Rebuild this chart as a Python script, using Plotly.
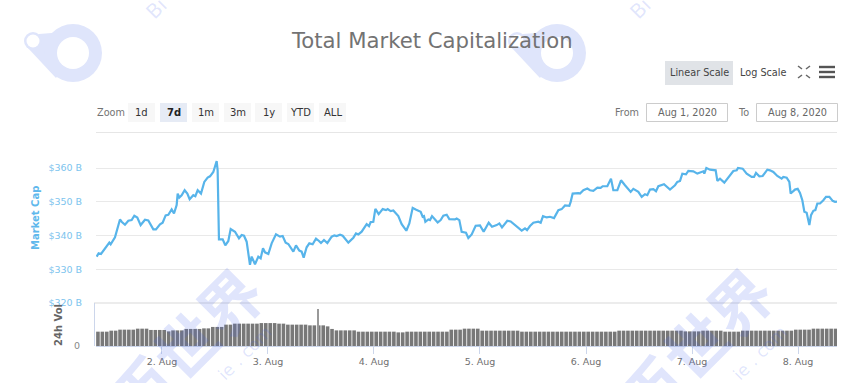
import pandas as pd
import plotly.graph_objects as go

# ---- data ----
cap_hours = [9.21,9.66,10.19,11.09,12.08,12.38,13.36,14.49,14.87,15.62,16.38,17.13,17.74,18.41,19.17,20.15,20.90,22.04,22.64,23.55,24.15,24.83,25.43,26.19,26.72,27.32,27.55,27.92,28.45,29.13,29.74,30.26,31.09,31.55,32.08,32.83,33.58,34.34,34.87,35.62,36.38,36.60,36.90,37.74,38.34,39.02,39.55,40.53,41.43,42.04,42.57,43.17,43.92,44.30,45.06,45.81,46.34,46.87,47.32,48.08,48.83,49.81,50.72,51.32,52.00,52.60,53.21,53.74,54.34,55.09,55.62,56.08,56.75,57.36,58.11,58.87,59.55,
60.0,60.68,61.44,62.42,63.02,63.55,64.31,64.91,66.19,67.33,67.93,68.46,69.21,70.34,70.87,71.25,71.85,72.31,73.06,73.97,74.72,75.10,75.78,76.38,77.51,78.27,79.32,80.0,80.76,81.44,82.57,83.02,83.32,83.63,84.31,84.68,85.14,85.82,86.42,87.10,87.70,88.46,89.06,90.34,90.72,91.32,91.85,92.83,93.36,94.12,95.02,96.0,96.83,97.97,98.72,99.78,100.38,100.98,102.19,102.95,104.31,105.44,106.19,106.65,107.32,108.08,109.21,109.74,110.27,111.10,111.85,112.76,113.74,114.49,115.25,116.23,116.53,116.98,118.27,
118.64,119.40,120.30,120.91,121.66,122.57,123.32,123.78,124.83,125.66,126.19,127.10,127.93,128.83,130.12,130.72,131.85,132.61,133.36,133.89,134.49,135.25,135.85,136.38,137.66,139.02,140.15,140.68,141.29,141.81,142.64,143.17,144.30,145.21,146.57,146.79,147.25,148.08,149.36,149.74,150.34,151.32,152.23,153.36,154.12,154.42,155.47,156.38,157.51,158.04,158.49,159.25,160.0,161.06,161.66,162.42,163.32,164.30,164.68,165.44,166.04,166.34,167.32,167.93,168.45,168.98,169.44,169.96,170.57,170.95,171.47,171.93,172.38,172.98,173.74,174.34,175.10,175.85,176.38,176.83]
market_cap = [333.75,334.73,334.53,336.0,337.88,337.39,339.45,344.76,344.07,343.19,344.37,344.56,345.84,345.35,343.09,344.66,344.46,341.81,341.81,343.28,343.78,345.94,346.14,347.71,346.53,349.0,352.43,351.25,351.94,353.41,352.43,350.76,351.94,351.64,353.41,352.43,355.87,357.15,357.54,358.82,362.06,359.31,338.86,338.86,337.09,338.37,341.91,341.12,339.15,340.14,339.94,338.17,331.29,333.75,331.48,333.75,333.25,336.2,335.02,334.53,337.68,340.33,339.65,339.84,337.88,337.48,336.2,335.22,337.09,335.52,335.22,333.45,336.5,337.68,337.39,339.06,338.37,
337.78,338.66,337.78,339.65,340.04,339.84,340.24,339.94,337.88,339.35,340.63,340.33,341.12,343.38,342.79,343.97,344.07,347.91,346.33,347.81,347.51,347.81,347.22,347.41,345.74,343.38,341.42,343.58,348.2,347.71,347.02,345.55,345.74,344.07,344.76,344.56,345.74,344.76,343.87,344.56,345.84,346.14,344.86,344.76,345.05,344.56,341.12,340.83,339.25,340.33,342.89,342.99,341.12,343.78,342.6,343.09,343.58,342.4,344.37,344.17,342.79,341.42,342.1,341.61,342.79,343.78,344.07,343.78,345.74,345.35,345.55,345.15,347.51,347.81,348.89,348.79,349.97,352.43,352.53,
352.43,353.41,353.9,353.41,353.22,354.2,354.1,354.59,354.59,356.85,353.41,353.41,356.36,354.89,352.92,353.81,352.92,351.45,352.23,351.94,353.61,353.71,353.12,354.59,355.18,353.61,354.89,355.87,356.17,358.33,358.13,359.12,359.02,358.33,359.02,358.33,360.0,359.51,359.31,356.17,356.85,355.67,357.35,359.12,359.31,360.0,359.8,358.33,357.35,357.35,358.53,357.54,357.64,359.51,359.31,358.82,357.64,356.85,357.35,357.15,355.87,352.43,353.61,353.81,352.63,350.46,347.02,346.73,343.09,346.04,347.32,347.51,349.48,349.48,350.46,351.45,351.45,350.27,349.97,350.07]

vol_hours = [h + 0.5 for h in range(9, 177)]
volume = [100,100,100,107,107,114,114,114,114,121,121,121,112,112,112,112,102,109,109,109,
          119,119,119,119,123,123,133,133,133,149,149,156,156,156,156,156,156,160,160,160,
          160,156,156,149,149,149,149,149,144,144,144,144,137,119,109,109,109,109,109,100,
          100,100,100,100,100,100,100,100,95,95,100,100,100,100,100,100,100,100,100,100,
          114,114,114,121,121,121,121,107,107,107,107,107,107,107,107,107,100,100,100,100,
          100,100,100,100,100,100,100,100,100,100,100,100,100,100,100,100,100,100,107,107,
          107,107,107,107,107,107,107,107,107,107,107,107,107,102,102,102,102,107,107,107,
          107,107,100,100,100,100,107,107,107,107,107,107,107,107,107,107,107,107,114,114,
          114,114,121,121,121,121,121,121]
spike_hour = [59.4]
spike_volume = [258]

day_ticks = ["2020-08-02","2020-08-03","2020-08-04","2020-08-05","2020-08-06","2020-08-07","2020-08-08"]
day_labels = ["2. Aug","3. Aug","4. Aug","5. Aug","6. Aug","7. Aug","8. Aug"]
cap_ticks = [320,330,340,350,360]
cap_labels = ["$320 B","$330 B","$340 B","$350 B","$360 B"]
zoom_buttons = ["1d","7d","1m","3m","1y","YTD","ALL"]
title = "Total Market Capitalization"

# ---- helpers ----
W, H = 867, 383
FONT = "DejaVu Sans"
WM_SOLID = "#dfe5fb"
WM = "rgba(70,100,240,0.17)"
base = pd.Timestamp("2020-08-01")
def to_t(hs):
    return [base + pd.Timedelta(hours=h) for h in hs]
def px(x): return x / W
def py(y): return 1 - y / H

def rect(x0, y0, x1, y1, fill="rgba(0,0,0,0)", line=None, lw=1, layer="below"):
    return dict(type="rect", xref="paper", yref="paper", x0=px(x0), x1=px(x1), y0=py(y0), y1=py(y1),
                fillcolor=fill, line=dict(color=line or "rgba(0,0,0,0)", width=lw if line else 0), layer=layer)
def seg(x0, y0, x1, y1, color, lw=1, layer="below"):
    return dict(type="line", xref="paper", yref="paper", x0=px(x0), x1=px(x1), y0=py(y0), y1=py(y1),
                line=dict(color=color, width=lw), layer=layer)
def circle(cx, cy, r, fill):
    return dict(type="circle", xref="paper", yref="paper", x0=px(cx-r), x1=px(cx+r), y0=py(cy-r), y1=py(cy+r),
                fillcolor=fill, line=dict(width=0), layer="below")
def text(x, y, s, size=11, color="#666666", anchor="center", angle=0, family=FONT, bold=False):
    return dict(xref="paper", yref="paper", x=px(x), y=py(y), text=("<b>%s</b>" % s) if bold else s,
                showarrow=False, xanchor=anchor, yanchor="middle", textangle=angle,
                font=dict(family=family, size=size, color=color))

shapes, notes = [], []

# watermark logos
for dx in (0, 484):
    shapes.append(dict(type="path", xref="paper", yref="paper", layer="below", fillcolor=WM_SOLID, line=dict(width=0),
        path="M %f %f L %f %f L %f %f L %f %f Z" % (px(27+dx), py(47), px(39+dx), py(34), px(90+dx), py(30), px(56+dx), py(78))))
    shapes.append(circle(33+dx, 41, 9, WM_SOLID))
    shapes.append(circle(73+dx, 53, 29, WM_SOLID))
    shapes.append(circle(73+dx, 53, 16, "#ffffff"))
    shapes.append(circle(33+dx, 41, 6.5, "#ffffff"))
notes.append(text(156, 9, "Bi", 20, WM, angle=-45))
notes.append(text(640, 9, "Bi", 20, WM, angle=-45))
for cx in (184, 694):
    notes.append(text(cx, 344, "币世界", 62, WM, angle=-45, family="Noto Sans CJK SC", bold=True))
for cx in (245, 760):
    notes.append(text(cx, 353, "ie . com", 17, WM, angle=-45))

# title
notes.append(text(431.5, 41, title, 21.2, "#737373"))

# toolbar
shapes.append(rect(665, 61, 733, 85, fill="#e0e3e7"))
notes.append(text(699, 72, "Linear Scale", 9.7, "#444444"))
notes.append(text(763, 72, "Log Scale", 9.7, "#444444"))
for (a, b, c, d) in [(798,66,802,69),(810,66,806,69),(798,78,802,75),(810,78,806,75)]:
    shapes.append(seg(a, b, c, d, "#666666", 1.5))
for y in (67, 72, 77):
    shapes.append(seg(819, y, 835, y, "#555555", 2.4))

# range selector row
notes.append(text(95, 112, "Zoom", 9.7, "#737373", anchor="left"))
btn_edges = [128, 160, 192, 224, 255, 287, 319]
for i, (b, x0) in enumerate(zip(zoom_buttons, btn_edges)):
    on = b == "7d"
    shapes.append(rect(x0, 103, x0 + 27, 122, fill="#e6ebf5" if on else "#f7f7f7"))
    notes.append(text(x0 + 13.5, 112, b, 10, "#222222" if on else "#333333", bold=on))
notes.append(text(627, 112, "From", 9.7, "#737373"))
shapes.append(rect(646.5, 103.5, 727.5, 121.5, fill="#ffffff", line="#cccccc"))
notes.append(text(687, 112, "Aug 1, 2020", 9.7, "#666666"))
notes.append(text(743.5, 112, "To", 9.7, "#737373"))
shapes.append(rect(756.5, 103.5, 837.5, 121.5, fill="#ffffff", line="#cccccc"))
notes.append(text(797, 112, "Aug 8, 2020", 9.7, "#666666"))
shapes.append(seg(96, 132.5, 837, 132.5, "#e6e6e6"))

# axis titles and panel frame
notes.append(text(36, 218, "Market Cap", 10, "#5fb8ec", angle=-90, bold=True))
notes.append(text(58, 325, "24h Vol", 10, "#666666", angle=-90, bold=True))
shapes.append(seg(94, 303, 837, 303, "#e6e6e6", 1.5))
shapes.append(seg(94.5, 303, 94.5, 346, "#ccd6eb"))

# ---- figure ----
fig = go.Figure()
fig.add_trace(go.Scatter(x=to_t(cap_hours), y=market_cap, mode="lines", xaxis="x", yaxis="y",
                         line=dict(color="#57b4ea", width=2.2), hoverinfo="skip", showlegend=False))
fig.add_trace(go.Bar(x=to_t(vol_hours), y=volume, xaxis="x2", yaxis="y2", marker=dict(color="#787878", line=dict(width=0)),
                     width=3.6*3600*1000*0.2264, hoverinfo="skip", showlegend=False))
fig.add_trace(go.Bar(x=to_t(spike_hour), y=spike_volume, xaxis="x2", yaxis="y2", marker=dict(color="#999999", line=dict(width=0)),
                     width=0.7*3600*1000*0.2264, hoverinfo="skip", showlegend=False))

t0, t1 = to_t([9.06])[0], to_t([176.83])[0]
tick_font = dict(family=FONT, size=9.5, color="#7cc4ee")
fig.update_layout(
    template="none",
    width=W, height=H, autosize=False, margin=dict(l=0, r=0, t=0, b=0, pad=0),
    paper_bgcolor="#ffffff", plot_bgcolor="rgba(0,0,0,0)", barmode="overlay", showlegend=False,
    xaxis=dict(domain=[px(96), px(837)], range=[t0, t1], anchor="y", showticklabels=False, showgrid=False,
               zeroline=False, showline=False, ticks="", automargin=False),
    yaxis=dict(domain=[py(303), py(140)], range=[320, 320 + 163/33.75*10], anchor="x", tickvals=cap_ticks, ticktext=cap_labels,
               tickfont=tick_font, showgrid=True, gridcolor="#e9e9e9", gridwidth=1, automargin=False,
               zeroline=False, showline=False, ticks="outside", ticklen=11, tickcolor="rgba(0,0,0,0)"),
    xaxis2=dict(domain=[px(96), px(837)], range=[t0, t1], anchor="y2", tickvals=day_ticks, ticktext=day_labels,
                tickfont=dict(family=FONT, size=9.5, color="#707070"), showgrid=False, zeroline=False, automargin=False,
                showline=True, linecolor="#ccd6eb", ticks="outside", ticklen=7, tickcolor="#ccd6eb"),
    yaxis2=dict(domain=[py(346), py(303)], range=[0, 300], anchor="x2", tickvals=[0], ticktext=["0"], automargin=False,
                tickfont=dict(family=FONT, size=9.5, color="#888888"), showgrid=False, zeroline=False, showline=False,
                ticks="outside", ticklen=13, tickcolor="rgba(0,0,0,0)"),
    shapes=shapes, annotations=notes,
)
fig.write_html("out.html", post_script="document.body.style.margin='0';document.body.style.overflow='hidden';",
               config=dict(displayModeBar=False))
